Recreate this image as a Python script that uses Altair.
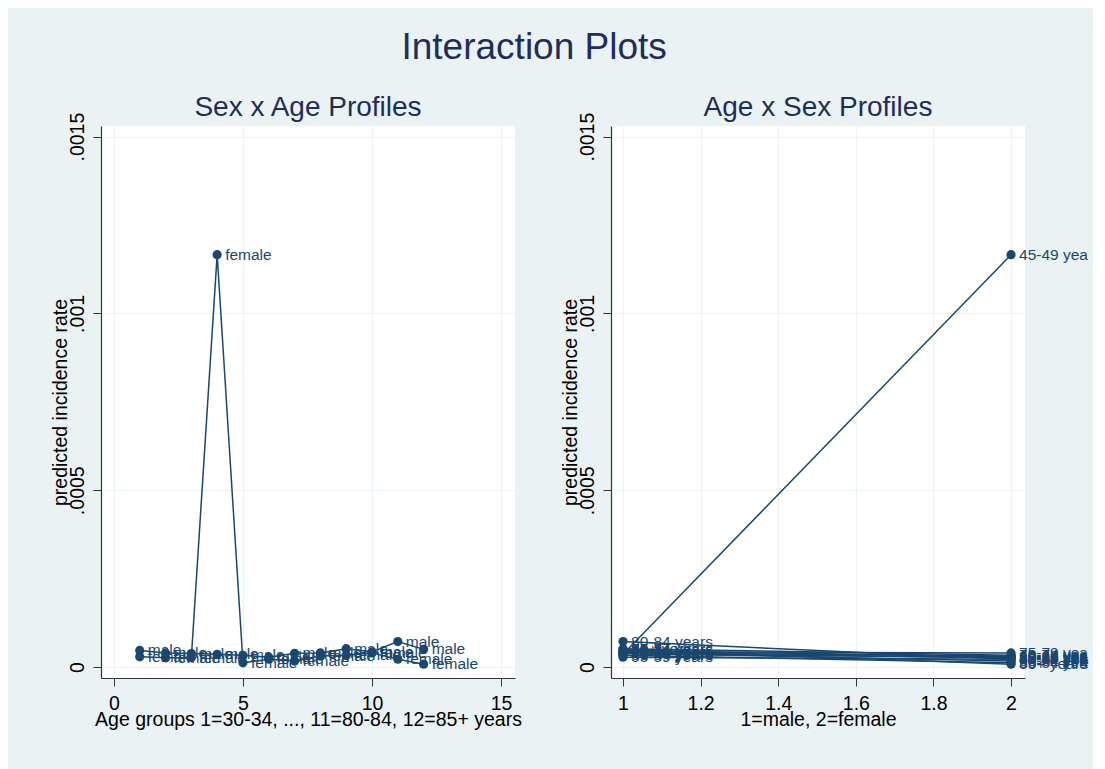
import altair as alt
import pandas as pd

# ---- data ----
age_groups = [1, 2, 3, 4, 5, 6, 7, 8, 9, 10, 11, 12]
age_labels = ["30-34 years", "35-39 years", "40-44 years", "45-49 years",
              "50-54 years", "55-59 years", "60-64 years", "65-69 years",
              "70-74 years", "75-79 years", "80-84 years", "85+ years"]
male_rate = [4.7e-5, 4.0e-5, 3.8e-5, 3.6e-5, 3.3e-5, 2.8e-5,
             3.9e-5, 4.0e-5, 5.2e-5, 4.3e-5, 7.2e-5, 5.0e-5]
female_rate = [2.9e-5, 2.6e-5, 2.6e-5, 1.166e-3, 1.2e-5, 2.2e-5,
               1.7e-5, 3.1e-5, 3.3e-5, 4.0e-5, 2.2e-5, 0.8e-5]
sex_codes = [1, 2]
sex_labels = ["male", "female"]

rows = []
for i, g in enumerate(age_groups):
    for s, sl, vals in zip(sex_codes, sex_labels, [male_rate, female_rate]):
        rows.append(dict(age=g, age_label=age_labels[i], sex=s,
                         sex_label=sl, rate=vals[i]))
df = pd.DataFrame(rows)

NAVY = "#1a476f"
TITLE_C = "#1e2d5a"
BG = "#eaf2f3"
FONT = "Liberation Sans"

yscale = alt.Scale(domain=[-0.000031, 0.00153], nice=False, zero=False)
yaxis = alt.Axis(
    values=[0, 0.0005, 0.001, 0.0015],
    labelExpr="datum.value == 0 ? '0' : replace(format(datum.value, '~g'), '0.', '.')",
    labelAngle=270,
    labelAlign="center",
    labelBaseline="bottom",
    title="predicted incidence rate",
    titlePadding=-3,
    labelPadding=6,
)


def panel(xfield, xscale, xaxis, group_field, label_field, title, edge_limit=None):
    base = alt.Chart(df).encode(
        x=alt.X(xfield, type="quantitative", scale=xscale, axis=xaxis),
        y=alt.Y("rate:Q", scale=yscale, axis=yaxis),
    )
    lines = base.mark_line(color=NAVY, strokeWidth=1.5).encode(
        detail=alt.Detail(group_field, type="nominal"),
        order=alt.Order(xfield, type="quantitative"),
    )
    pts = base.mark_circle(color=NAVY, size=85, opacity=1)
    txt = dict(align="left", baseline="middle", dx=8, color=NAVY,
               fontSize=15.5, font=FONT)
    layers = [lines, pts]
    if edge_limit is None:
        layers.append(base.mark_text(**txt).encode(
            text=alt.Text(label_field, type="nominal")))
    else:
        # labels at the right edge run off the page in the reference
        layers.append(base.mark_text(**txt).encode(
            text=alt.Text(label_field, type="nominal")
        ).transform_filter(alt.datum[xfield] < 2))
        layers.append(base.mark_text(limit=edge_limit, ellipsis=" ", **txt).encode(
            text=alt.Text(label_field, type="nominal")
        ).transform_filter(alt.datum[xfield] >= 2))
    return alt.layer(*layers).properties(
        width=414, height=552,
        title=alt.TitleParams(title, fontSize=28, color=TITLE_C, font=FONT,
                              fontWeight="normal", anchor="middle", offset=-10),
    )


left = panel(
    "age",
    alt.Scale(domain=[-0.5, 15.54], nice=False, zero=False),
    alt.Axis(values=[0, 5, 10, 15], title="Age groups 1=30-34, ..., 11=80-84, 12=85+ years",
             titlePadding=-2, labelPadding=8),
    "sex_label", "sex_label", "Sex x Age Profiles",
)
right = panel(
    "sex",
    alt.Scale(domain=[0.969, 2.036], nice=False, zero=False),
    alt.Axis(values=[1, 1.2, 1.4, 1.6, 1.8, 2], format="~g", title="1=male, 2=female",
             titlePadding=-2, labelPadding=8),
    "age_label", "age_label", "Age x Sex Profiles", edge_limit=77,
)

chart = alt.hconcat(left, right, spacing=96, bounds="flush").properties(
    title=alt.TitleParams("Interaction Plots", fontSize=37, color=TITLE_C, font=FONT,
                          fontWeight="normal", anchor="middle", offset=27, dx=-37),
    padding={"left": 42, "top": 21, "right": 0, "bottom": 41},
).configure(
    background=BG, font=FONT,
).configure_view(
    fill="white", stroke=None,
).configure_axis(
    labelFont=FONT, titleFont=FONT, labelFontSize=19.5, titleFontSize=19.5,
    labelColor="black", titleColor="black", titleFontWeight="normal",
    domainColor="#333333", tickColor="#333333", tickSize=8, domainWidth=1.2,
    gridColor=BG, gridWidth=1.2, grid=True,
)

chart.save("out.html", embed_options={"renderer": "svg", "actions": False})
